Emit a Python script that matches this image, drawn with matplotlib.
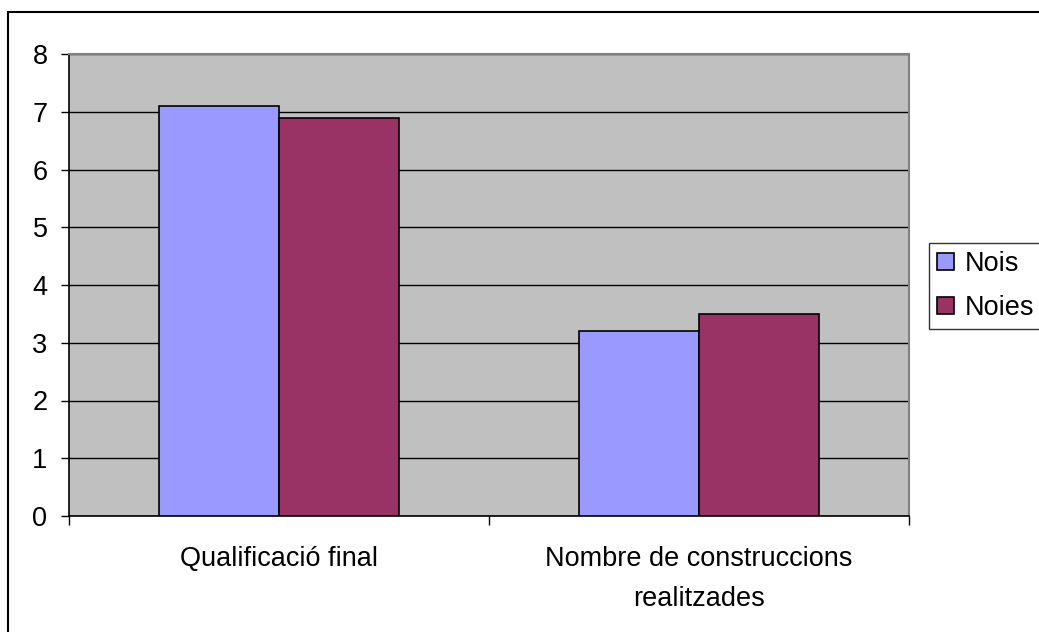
import numpy as np
import matplotlib
matplotlib.use("Agg")
import matplotlib.pyplot as plt
from matplotlib.patches import Rectangle

plt.rcParams['font.family'] = ['Liberation Sans', 'DejaVu Sans']

categories = ["Qualificació final", "Nombre de construccions\nrealitzades"]
nois = [7.1, 3.2]
noies = [6.9, 3.5]
series_names = ["Nois", "Noies"]

fs = 19.5

fig = plt.figure(figsize=(10.39, 6.32), dpi=100)
ax = fig.add_axes([69 / 1039, 116 / 632, 840 / 1039, 462 / 632])
ax.set_facecolor('#C0C0C0')

x = np.arange(len(categories))
w = 120 / 420
ax.bar(x - w / 2, nois, w, color='#9999FF', edgecolor='black', linewidth=1.2,
       label=series_names[0], zorder=3)
ax.bar(x + w / 2, noies, w, color='#993366', edgecolor='black', linewidth=1.2,
       label=series_names[1], zorder=3)

ax.set_xlim(-0.5, 1.5)
ax.set_ylim(0, 8)
ax.set_yticks(range(0, 9))
ax.yaxis.grid(True, color='black', linewidth=1)
ax.set_axisbelow(True)

# category boundaries get the ticks, labels sit in between
ax.set_xticks([-0.5, 0.5, 1.5])
ax.set_xticklabels([])
ax.set_xticks(x, minor=True)
ax.set_xticklabels(categories, minor=True, fontsize=fs, linespacing=1.72)
ax.tick_params(axis='x', which='minor', length=0, pad=21.5)
ax.tick_params(axis='x', which='major', length=6.5, width=1)
ax.tick_params(axis='y', length=6, width=1, labelsize=fs, pad=9.5)

for side in ['top', 'right']:
    ax.spines[side].set_color('#808080')
    ax.spines[side].set_linewidth(1.5)
ax.spines['left'].set_linewidth(1.2)
ax.spines['bottom'].set_linewidth(1.2)

leg = fig.legend(loc='center left', bbox_to_anchor=(929 / 1039, 1 - 286 / 632),
                 fontsize=fs, frameon=True, fancybox=False, borderpad=0.3,
                 handlelength=0.62, handleheight=0.62, handletextpad=0.4,
                 labelspacing=0.67, borderaxespad=0)
leg.get_frame().set_edgecolor('black')
leg.get_frame().set_linewidth(1)

# chart border
fig.patches.append(Rectangle((8 / 1039, -0.05), 1.1, 1 - 12 / 632 + 0.05,
                             transform=fig.transFigure, fill=False,
                             edgecolor='black', linewidth=1.5, clip_on=False))

fig.savefig('out.png', dpi=100)
